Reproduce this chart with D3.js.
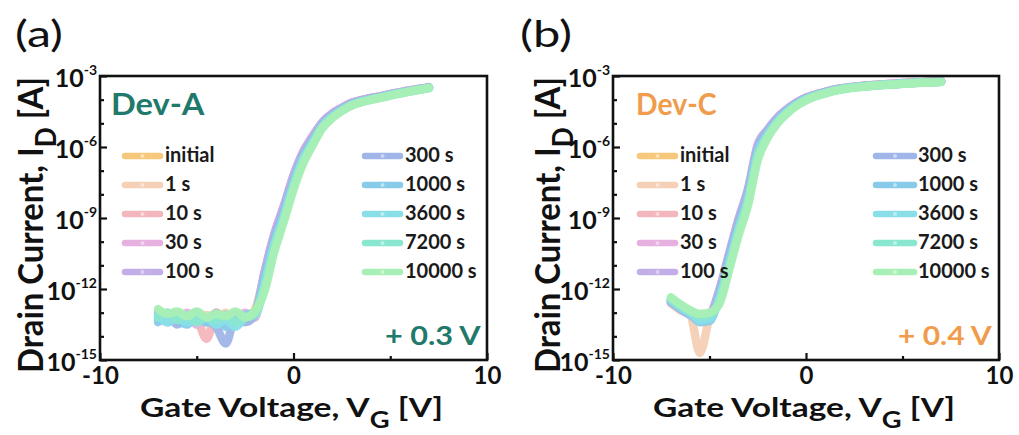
<!DOCTYPE html>
<html><head><meta charset="utf-8">
<script src="https://cdn.jsdelivr.net/npm/d3@7"></script>
<style>body{margin:0;background:#fff}svg{display:block}</style>
</head><body>
<svg id="c" width="1019" height="435"></svg>
<script>
// ---------- data ----------
const vg = [-7,-6.5,-6,-5.5,-5,-4.5,-4,-3.5,-3,-2.5,-2,-1.5,-1,-0.5,0,0.5,1,1.5,2,2.5,3,3.5,4,4.5,5,5.5,6,6.5,7];
const seriesNames = ["initial","1 s","10 s","30 s","100 s","300 s","1000 s","3600 s","7200 s","10000 s"];
const seriesColors = ["#f6c87c","#f5cfb6","#f4b6bd","#e6b1e0","#c3aee8","#a0b5e8","#88cbe9","#88dfe7","#89e7d0","#a8efb5"];
const xMajor = [-10,0,10];
const xMinor = [-5,5];
const yExp = [-3,-6,-9,-12,-15];
const yMinorExp = [-4,-5,-7,-8,-10,-11,-13,-14];

// Dev-A : log10(ID [A])
const devA_initial = [-12.9,-13.2,-13.0,-13.3,-13.1,-13.4,-13.0,-13.2,-13.1,-13.3,-12.9,-11.4,-9.8,-8.6,-7.3,-6.3,-5.6,-4.98,-4.62,-4.36,-4.15,-4.03,-3.94,-3.86,-3.77,-3.69,-3.61,-3.55,-3.48];
const devA_1s      = [-13.0,-13.3,-13.1,-13.2,-13.4,-13.1,-13.3,-13.0,-13.4,-13.2,-13.0,-11.45,-9.85,-8.65,-7.35,-6.32,-5.62,-5.0,-4.63,-4.37,-4.16,-4.04,-3.95,-3.87,-3.78,-3.7,-3.62,-3.55,-3.49];
const devA_10s     = [-13.1,-13.0,-13.4,-13.2,-13.3,-14.1,-13.2,-13.4,-13.0,-13.3,-13.1,-11.4,-9.8,-8.55,-7.25,-6.25,-5.55,-4.96,-4.6,-4.35,-4.14,-4.03,-3.94,-3.86,-3.77,-3.69,-3.61,-3.55,-3.48];
const devA_30s     = [-13.2,-13.1,-13.3,-13.0,-13.5,-13.2,-13.4,-13.1,-13.3,-13.0,-13.2,-11.3,-9.7,-8.5,-7.2,-6.2,-5.53,-4.94,-4.58,-4.34,-4.13,-4.02,-3.93,-3.85,-3.76,-3.68,-3.6,-3.54,-3.47];
const devA_100s    = [-13.0,-13.4,-13.1,-13.3,-13.2,-13.4,-13.0,-13.5,-13.1,-13.2,-13.0,-11.3,-9.72,-8.5,-7.22,-6.22,-5.55,-4.95,-4.59,-4.35,-4.14,-4.02,-3.93,-3.86,-3.77,-3.69,-3.61,-3.55,-3.48];
const devA_300s    = [-13.3,-13.1,-13.5,-13.2,-13.0,-13.3,-13.6,-14.3,-13.2,-13.4,-13.1,-11.5,-9.9,-8.7,-7.4,-6.35,-5.67,-5.03,-4.65,-4.39,-4.18,-4.05,-3.96,-3.88,-3.79,-3.71,-3.63,-3.56,-3.5];
const devA_1000s   = [-13.4,-13.2,-13.3,-13.5,-13.1,-13.4,-13.2,-13.6,-13.3,-13.1,-13.0,-11.65,-10.05,-8.85,-7.5,-6.45,-5.75,-5.08,-4.7,-4.42,-4.2,-4.07,-3.98,-3.9,-3.8,-3.72,-3.64,-3.57,-3.5];
const devA_3600s   = [-13.1,-13.4,-13.2,-13.4,-13.3,-13.2,-13.5,-13.3,-13.6,-13.2,-13.0,-11.8,-10.15,-8.95,-7.6,-6.52,-5.8,-5.12,-4.72,-4.44,-4.22,-4.08,-3.99,-3.9,-3.81,-3.72,-3.64,-3.57,-3.5];
const devA_7200s   = [-13.2,-13.0,-13.3,-13.1,-13.4,-13.2,-13.3,-13.1,-13.4,-13.2,-13.1,-11.95,-10.3,-9.05,-7.7,-6.6,-5.85,-5.16,-4.75,-4.46,-4.24,-4.1,-4.0,-3.91,-3.82,-3.73,-3.65,-3.58,-3.51];
const devA_10000s  = [-12.85,-13.05,-12.95,-13.15,-12.95,-13.2,-13.05,-13.15,-12.95,-13.2,-12.95,-12.1,-10.45,-9.15,-7.8,-6.7,-5.91,-5.2,-4.78,-4.48,-4.25,-4.11,-4.01,-3.92,-3.83,-3.74,-3.66,-3.58,-3.51];

// Dev-C : log10(ID [A])
const devC_initial = [-12.6,-12.85,-13.05,-13.2,-13.15,-12.2,-10.7,-9.2,-7.9,-6.05,-5.35,-4.82,-4.44,-4.15,-3.93,-3.79,-3.68,-3.58,-3.51,-3.46,-3.42,-3.39,-3.36,-3.34,-3.31,-3.29,-3.27,-3.25,-3.23];
const devC_1s      = [-12.6,-12.9,-13.1,-14.7,-13.2,-12.2,-10.7,-9.2,-7.9,-6.05,-5.35,-4.82,-4.44,-4.15,-3.93,-3.79,-3.68,-3.58,-3.51,-3.46,-3.42,-3.39,-3.36,-3.34,-3.31,-3.29,-3.27,-3.25,-3.23];
const devC_10s     = [-12.55,-12.8,-13.0,-13.15,-13.1,-12.15,-10.65,-9.15,-7.85,-6.0,-5.32,-4.8,-4.43,-4.14,-3.92,-3.78,-3.67,-3.57,-3.5,-3.45,-3.41,-3.38,-3.35,-3.33,-3.3,-3.28,-3.26,-3.24,-3.22];
const devC_30s     = [-12.5,-12.75,-12.95,-13.1,-13.05,-12.1,-10.6,-9.1,-7.8,-5.95,-5.3,-4.78,-4.42,-4.13,-3.92,-3.78,-3.67,-3.57,-3.5,-3.45,-3.41,-3.38,-3.35,-3.33,-3.3,-3.28,-3.26,-3.24,-3.22];
const devC_100s    = [-12.5,-12.8,-13.0,-13.15,-13.1,-12.05,-10.55,-9.05,-7.75,-5.9,-5.28,-4.77,-4.41,-4.13,-3.92,-3.78,-3.67,-3.57,-3.5,-3.45,-3.41,-3.38,-3.35,-3.33,-3.3,-3.28,-3.26,-3.24,-3.22];
const devC_300s    = [-12.55,-12.85,-13.1,-13.3,-13.25,-12.2,-10.7,-9.2,-7.9,-6.05,-5.36,-4.84,-4.46,-4.17,-3.95,-3.8,-3.69,-3.59,-3.52,-3.47,-3.43,-3.4,-3.37,-3.35,-3.32,-3.3,-3.28,-3.26,-3.24];
const devC_1000s   = [-12.5,-12.8,-13.05,-13.4,-13.35,-12.35,-10.9,-9.4,-8.1,-6.2,-5.45,-4.9,-4.5,-4.2,-3.97,-3.82,-3.7,-3.6,-3.52,-3.47,-3.43,-3.4,-3.37,-3.35,-3.32,-3.3,-3.28,-3.26,-3.24];
const devC_3600s   = [-12.45,-12.75,-13.0,-13.3,-13.25,-12.45,-11.0,-9.5,-8.2,-6.3,-5.5,-4.94,-4.53,-4.22,-3.99,-3.83,-3.71,-3.61,-3.53,-3.48,-3.44,-3.4,-3.37,-3.35,-3.32,-3.3,-3.28,-3.26,-3.24];
const devC_7200s   = [-12.4,-12.7,-12.95,-13.15,-13.1,-12.55,-11.1,-9.6,-8.3,-6.4,-5.56,-4.98,-4.56,-4.24,-4.0,-3.84,-3.72,-3.62,-3.54,-3.48,-3.44,-3.41,-3.38,-3.35,-3.33,-3.3,-3.28,-3.26,-3.24];
const devC_10000s  = [-12.35,-12.65,-12.9,-13.05,-13.0,-12.65,-11.25,-9.75,-8.45,-6.55,-5.63,-5.02,-4.6,-4.27,-4.03,-3.86,-3.74,-3.63,-3.55,-3.49,-3.45,-3.41,-3.38,-3.36,-3.33,-3.31,-3.29,-3.27,-3.25];

const devA = [devA_initial,devA_1s,devA_10s,devA_30s,devA_100s,devA_300s,devA_1000s,devA_3600s,devA_7200s,devA_10000s];
const devC = [devC_initial,devC_1s,devC_10s,devC_30s,devC_100s,devC_300s,devC_1000s,devC_3600s,devC_7200s,devC_10000s];

// ---------- layout ----------
const FONT = "Lato, 'Open Sans', sans-serif";
const panels = [
  {label:"(a)", labL:15, labR:63, left:100, right:487, top:76, bottom:360, data:devA,
   dev:"Dev-A", devL:111, devR:205, devColor:"#1f7a6c", shift:"+ 0.3 V", shL:385, shR:481,
   yTitleX:43, xTitleL:140, xTitleR:443, legL:[122,163,165], legR:[362,403,405]},
  {label:"(b)", labL:520, labR:572, left:613, right:999, top:76, bottom:360, data:devC,
   dev:"Dev-C", devL:636, devR:717, devColor:"#f19c4c", shift:"+ 0.4 V", shL:898, shR:992,
   yTitleX:560, xTitleL:653, xTitleR:955, legL:[637,678,680], legR:[873,917,918]}
];
const legendRows = [154,183,212,241,270];

const svg = d3.select("#c");

function fitLR(sel, L, R){
  const bb = sel.node().getBBox();
  const s = (R-L)/bb.width;
  sel.attr("transform", `translate(${L},0) scale(${s},1) translate(${-bb.x},0)`);
}
function fitCenter(sel, len){
  const bb = sel.node().getBBox();
  const s = len/bb.width;
  sel.attr("transform", `scale(${s},1) translate(${-(bb.x+bb.width/2)},0)`);
}

panels.forEach(p => {
  const g = svg.append("g");
  const x = d3.scaleLinear().domain([-10,10]).range([p.left,p.right]);
  const y = d3.scaleLog().domain([1e-15,1e-3]).range([p.bottom,p.top]);

  // curves
  const line = d3.line().x((d,i)=>x(vg[i])).y(d=>y(Math.pow(10,d))).curve(d3.curveMonotoneX);
  p.data.forEach((s,k)=>{
    g.append("path").attr("d", line(s)).attr("fill","none")
     .attr("stroke", seriesColors[k]).attr("stroke-width",8.5)
     .attr("stroke-linejoin","round").attr("stroke-linecap","round").attr("opacity",0.95);
  });

  // axes ticks (inward)
  const axB = g.append("g").attr("transform",`translate(0,${p.bottom})`)
    .call(d3.axisBottom(x).tickValues(xMajor).tickSizeInner(-7).tickSizeOuter(0).tickPadding(7).tickFormat(d3.format("d")));
  axB.select(".domain").remove();
  axB.selectAll("line").attr("stroke","#111").attr("stroke-width",2.2);
  axB.selectAll("text").attr("font-family",FONT).attr("font-weight",700).attr("font-size",24).attr("fill","#111")
     .text(d=>d<0? "-"+Math.abs(d): d);
  const axBm = g.append("g").attr("transform",`translate(0,${p.bottom})`)
    .call(d3.axisBottom(x).tickValues(xMinor).tickSizeInner(-4).tickSizeOuter(0).tickFormat(""));
  axBm.select(".domain").remove();
  axBm.selectAll("line").attr("stroke","#111").attr("stroke-width",2.2);

  const axL = g.append("g").attr("transform",`translate(${p.left},0)`)
    .call(d3.axisLeft(y).tickValues(yExp.map(e=>Math.pow(10,e))).tickSizeInner(-7).tickSizeOuter(0).tickFormat(""));
  axL.select(".domain").remove();
  axL.selectAll("line").attr("stroke","#111").attr("stroke-width",2.2);
  const axLm = g.append("g").attr("transform",`translate(${p.left},0)`)
    .call(d3.axisLeft(y).tickValues(yMinorExp.map(e=>Math.pow(10,e))).tickSizeInner(-4).tickSizeOuter(0).tickFormat(""));
  axLm.select(".domain").remove();
  axLm.selectAll("line").attr("stroke","#111").attr("stroke-width",2.2);

  // y tick labels 10^n
  yExp.forEach(e=>{
    const ty = y(Math.pow(10,e));
    const t = g.append("text").attr("x",p.left-3).attr("y",ty+11).attr("text-anchor","end")
      .attr("font-family",FONT).attr("font-weight",700).attr("fill","#111");
    t.append("tspan").attr("font-size",25).text("10");
    t.append("tspan").attr("font-size",14).attr("dy",-12).text(String(e));
  });

  // frame
  g.append("rect").attr("x",p.left).attr("y",p.top).attr("width",p.right-p.left).attr("height",p.bottom-p.top)
    .attr("fill","none").attr("stroke","#111").attr("stroke-width",2.6);

  // legend
  seriesNames.forEach((n,k)=>{
    const col = k<5 ? p.legL : p.legR;
    const ry = legendRows[k%5];
    g.append("line").attr("x1",col[0]+3).attr("x2",col[1]-3).attr("y1",ry+2).attr("y2",ry+2)
      .attr("stroke",seriesColors[k]).attr("stroke-width",6.5).attr("stroke-linecap","round");
    g.append("circle").attr("cx",(col[0]+col[1])/2).attr("cy",ry+2).attr("r",2)
      .attr("fill","#fff").attr("opacity",0.45);
    g.append("text").attr("x",col[2]).attr("y",ry+8).attr("font-family",FONT).attr("font-weight",700)
      .attr("font-size",20).attr("fill","#1a1a1a").text(n);
  });

  // panel label
  const lab = g.append("text").attr("y",47).attr("font-family",FONT).attr("font-weight",400)
    .attr("font-size",36).attr("fill","#111").text(p.label);
  fitLR(lab, p.labL, p.labR);

  // device name
  const dv = g.append("text").attr("y",115).attr("font-family",FONT).attr("font-weight",700)
    .attr("font-size",31).attr("fill",p.devColor).text(p.dev);
  fitLR(dv, p.devL, p.devR);

  // shift
  const sh = g.append("text").attr("y",345).attr("font-family",FONT).attr("font-weight",700)
    .attr("font-size",27).attr("fill",p.devColor).text(p.shift);
  fitLR(sh, p.shL, p.shR);

  // x title
  const xt = g.append("text").attr("y",417).attr("font-family",FONT).attr("font-weight",700)
    .attr("font-size",27).attr("fill","#111");
  xt.append("tspan").text("Gate Voltage, V");
  xt.append("tspan").attr("font-size",22).attr("dy",11).text("G");
  xt.append("tspan").attr("dy",-11).text(" [V]");
  fitLR(xt, p.xTitleL, p.xTitleR);

  // y title (rotated)
  const yg = g.append("g").attr("transform",`translate(${p.yTitleX},225) rotate(-90)`);
  const yt = yg.append("text").attr("x",0).attr("y",0).attr("font-family",FONT).attr("font-weight",700)
    .attr("font-size",35).attr("fill","#111");
  yt.append("tspan").text("Drain Current, I");
  yt.append("tspan").attr("font-size",28).attr("dy",13).text("D");
  yt.append("tspan").attr("dy",-13).text(" [A]");
  fitCenter(yt, 296);
});
</script>
</body></html>
